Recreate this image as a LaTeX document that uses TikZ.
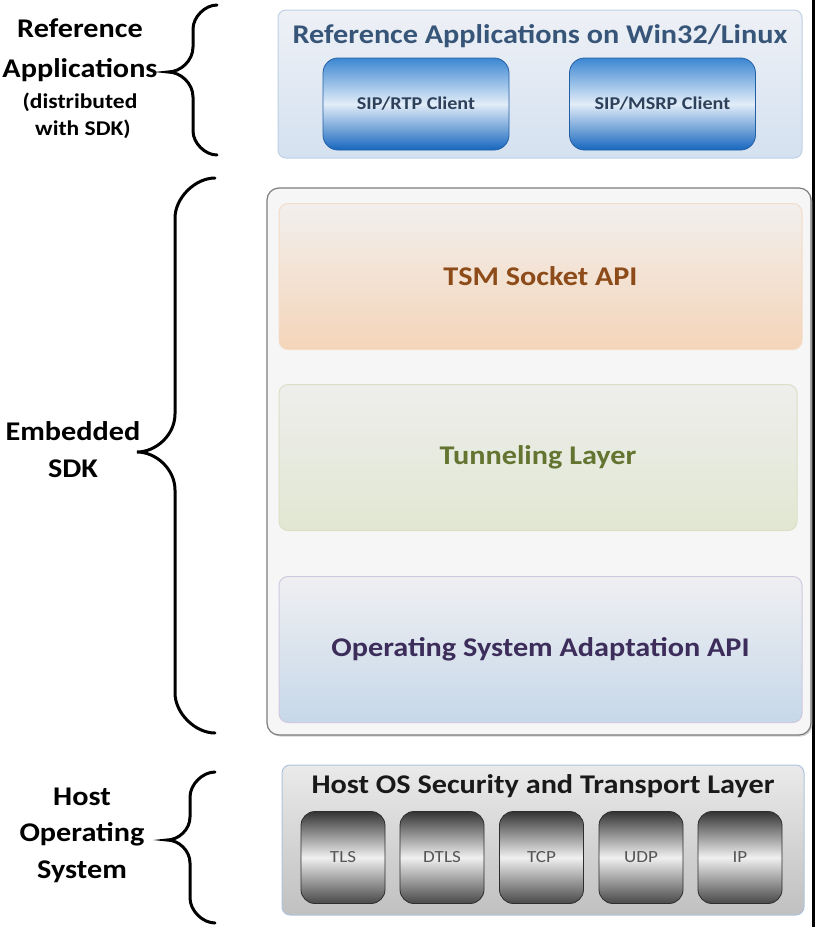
\documentclass[tikz,border=0pt]{standalone}
\usepackage{fontspec}
\setmainfont{Carlito}[FakeStretch=1.12]
\usetikzlibrary{shadows}

\definecolor{refTitle}{RGB}{55,85,120}
\definecolor{refTop}{RGB}{238,241,246}
\definecolor{refBot}{RGB}{212,225,240}
\definecolor{refEdge}{RGB}{190,208,228}
\definecolor{sipTop}{RGB}{60,135,210}
\definecolor{sipLight}{RGB}{226,237,248}
\definecolor{sipBot}{RGB}{22,102,190}
\definecolor{sipEdge}{RGB}{35,95,165}
\definecolor{sipText}{RGB}{45,65,90}
\definecolor{sdkEdge}{RGB}{125,125,125}
\definecolor{sdkFill}{RGB}{246,246,246}
\definecolor{tsmTop}{RGB}{242,239,237}
\definecolor{tsmBot}{RGB}{244,213,185}
\definecolor{tsmEdge}{RGB}{243,220,200}
\definecolor{tsmText}{RGB}{140,75,25}
\definecolor{tunTop}{RGB}{238,238,236}
\definecolor{tunBot}{RGB}{225,231,210}
\definecolor{tunEdge}{RGB}{218,224,198}
\definecolor{tunText}{RGB}{100,117,50}
\definecolor{osaTop}{RGB}{239,239,242}
\definecolor{osaBot}{RGB}{198,216,233}
\definecolor{osaEdge}{RGB}{208,202,224}
\definecolor{osaText}{RGB}{60,45,90}
\definecolor{hostTop}{RGB}{234,234,234}
\definecolor{hostBot}{RGB}{192,192,192}
\definecolor{hostEdge}{RGB}{175,195,222}
\definecolor{hostText}{RGB}{25,25,25}
\definecolor{gateDark}{RGB}{52,52,52}
\definecolor{gateLight}{RGB}{240,240,240}
\definecolor{gateEdge}{RGB}{45,45,45}
\definecolor{gateText}{RGB}{85,85,85}

% curly brace: x of the ends, x of the stem, x of the tip, y of top, tip and bottom
\newcommand\sidebrace[6]{%
  \pgfmathsetmacro\bhook{#1-#2}%
  \pgfmathsetmacro\btip{#2-#3}%
  \draw[brace] (#1,#4) .. controls ({#2+0.5*\bhook},#4) and (#2,{#4+0.5*\bhook}) .. (#2,{#4+\bhook})
    -- (#2,{#5-\btip}) .. controls (#2,{#5-0.45*\btip}) and ({#3+0.5*\btip},#5) .. (#3,#5)
    .. controls ({#3+0.5*\btip},#5) and (#2,{#5+0.45*\btip}) .. (#2,{#5+\btip})
    -- (#2,{#6-\bhook}) .. controls (#2,{#6-0.5*\bhook}) and ({#2+0.5*\bhook},#6) .. (#1,#6);}

\begin{document}
\begin{tikzpicture}[x=1pt,y=-1pt,
  bigfont/.style={font=\bfseries\fontsize{27}{30}\selectfont},
  smallfont/.style={font=\bfseries\fontsize{21}{24}\selectfont},
  sidelabel/.style={bigfont, anchor=base, inner sep=0pt},
  sidenote/.style={smallfont, anchor=base, inner sep=0pt},
  panel/.style={rectangle, rounded corners=8pt, line width=1pt, inner sep=0pt},
  layerbox/.style={rectangle, rounded corners=9pt, line width=1pt, inner sep=0pt,
    minimum width=523pt, minimum height=146pt, bigfont},
  sipbox/.style={rectangle, rounded corners=15pt, draw=sipEdge, line width=0.8pt,
    top color=sipTop, bottom color=sipBot, middle color=sipLight,
    minimum width=186pt, minimum height=92pt, inner sep=0pt, text=sipText,
    font=\bfseries\fontsize{18}{20}\selectfont},
  gatebox/.style={rectangle, rounded corners=14pt, draw=gateEdge, line width=0.8pt,
    top color=gateDark, bottom color=gateDark!90!white, middle color=gateLight,
    minimum width=84pt, minimum height=92pt, inner sep=0pt, text=gateText,
    font=\fontsize{17}{19}\selectfont},
  brace/.style={draw=black, line width=3pt, line cap=round}]

\useasboundingbox (0,0) rectangle (817,927);
\fill[white] (0,0) rectangle (817,927);

% right-hand frame line
\coordinate (frametop) at (813.5,0);
\coordinate (framebot) at (813.5,927);
\draw[line width=2.5pt] (frametop) -- (framebot);

% ---- reference applications ----
\node[panel, draw=refEdge, top color=refTop, bottom color=refBot,
  minimum width=524pt, minimum height=148pt] (refpanel) at (540,84) {};
\node[bigfont, text=refTitle, anchor=base, inner sep=0pt] (reftitle) at (540,43)
  {Reference Applications on Win32/Linux};
\node[sipbox] (siprtp) at (416,104) {SIP/RTP Client};
\node[sipbox] (sipmsrp) at (662.5,104) {SIP/MSRP Client};

% ---- embedded SDK ----
\node[panel, rounded corners=12pt, draw=sdkEdge, fill=sdkFill, line width=1.2pt,
  drop shadow={shadow xshift=1.5pt, shadow yshift=-1.5pt, fill=black!35},
  minimum width=544pt, minimum height=547pt] (sdk) at (539,461.5) {};
\node[layerbox, draw=tsmEdge, top color=tsmTop, bottom color=tsmBot, text=tsmText]
  (tsm) at (540.5,276.5) {TSM Socket API};
\node[layerbox, draw=tunEdge, top color=tunTop, bottom color=tunBot, text=tunText,
  minimum width=518pt] (tun) at (538,457.5) {Tunneling Layer};
\node[layerbox, draw=osaEdge, top color=osaTop, bottom color=osaBot, text=osaText]
  (osa) at (540.5,649.5) {Operating System Adaptation API};

% ---- host operating system ----
\node[panel, draw=hostEdge, top color=hostTop, bottom color=hostBot,
  minimum width=522pt, minimum height=150pt] (host) at (543,840) {};
\node[bigfont, text=hostText, anchor=base, inner sep=0pt] (hosttitle) at (543,793)
  {Host OS Security and Transport Layer};
\node[gatebox] (tls)  at (343,857.5) {TLS};
\node[gatebox] (dtls) at (442,857.5) {DTLS};
\node[gatebox] (tcp)  at (541.5,857.5) {TCP};
\node[gatebox] (udp)  at (641,857.5) {UDP};
\node[gatebox] (ip)   at (740,857.5) {IP};

% ---- side labels and braces ----
\node[sidelabel] (lref1) at (80,37) {Reference};
\node[sidelabel] (lref2) at (80,77) {Applications};
\node[sidenote] (lref3) at (80,108) {(distributed};
\node[sidenote] (lref4) at (83,135) {with SDK)};
\sidebrace{217}{193}{168}{5}{72}{155}

\node[sidelabel] (lsdk1) at (73,440) {Embedded};
\node[sidelabel] (lsdk2) at (73,477) {SDK};
\sidebrace{215}{175}{137}{178}{452}{733}

\node[sidelabel] (lhost1) at (82,805) {Host};
\node[sidelabel] (lhost2) at (82,841) {Operating};
\node[sidelabel] (lhost3) at (82,878) {System};
\sidebrace{215}{190}{167}{772}{840}{923}

\end{tikzpicture}
\end{document}
